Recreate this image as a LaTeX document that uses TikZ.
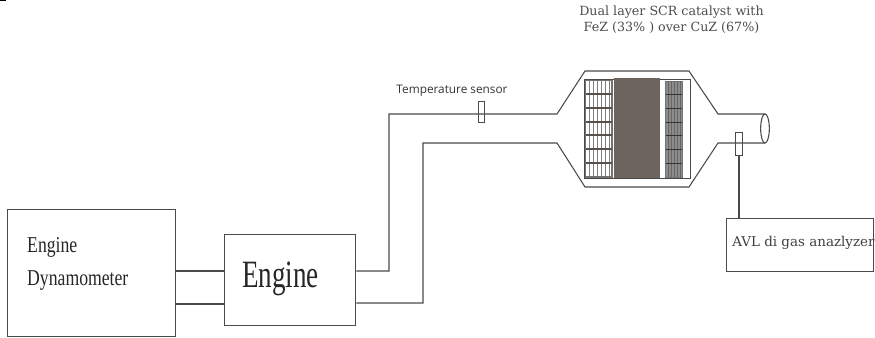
\documentclass[tikz,border=0pt]{standalone}
\usepackage{fontspec}
\usetikzlibrary{shapes.geometric}
\setmainfont{Liberation Serif}
\newfontfamily\wideserif{DejaVu Serif}
\newfontfamily\labelsans{Open Sans}
\definecolor{ln}{HTML}{4A4A4A}
\definecolor{brick}{HTML}{6E645E}
\tikzset{
  px/.style={x=0.75pt,y=-0.75pt},
  wire/.style={draw=ln,line width=0.8pt,line join=miter},
  boxnode/.style={draw=ln,line width=0.85pt,rectangle,inner sep=0pt,anchor=north west},
  sensor/.style={draw=ln,line width=0.8pt,rectangle,inner sep=0pt,anchor=north west},
  txt/.style={inner sep=0pt,text=black!85,anchor=west},
  capt/.style={inner sep=0pt,text=black!70,font=\wideserif\fontsize{9.5pt}{12pt}\selectfont,align=center}
}
\begin{document}
\begin{tikzpicture}[px]
\useasboundingbox (0,0) rectangle (875,338);
\fill[black] (0,0) rectangle (6,1.5);
% boxes
\node[boxnode,minimum width=126pt,minimum height=95.5pt] (dyno) at (7,209) {};
\node[boxnode,minimum width=98.5pt,minimum height=68pt] (engine) at (224,234) {};
\node[boxnode,minimum width=110.5pt,minimum height=40pt] (avl) at (726,218) {};
% box texts
\node[txt,xscale=.78,font=\fontsize{17pt}{24.7pt}\selectfont,align=left] (dynot) at (27,264) {Engine\\Dynamometer};
\node[txt,xscale=.70,font=\fontsize{29pt}{30pt}\selectfont] (engt) at (242,279) {Engine};
\node[txt,font=\wideserif\fontsize{10.1pt}{12pt}\selectfont,text=black!75] (avlt) at (732,243) {AVL di gas anazlyzer};
% shaft
\coordinate (dA) at (dyno.east |- 0,271);
\coordinate (dB) at (dyno.east |- 0,304);
\coordinate (eA) at (engine.west |- 0,271);
\coordinate (eB) at (engine.west |- 0,304);
\draw[wire] (dA) -- (eA);
\draw[wire] (dB) -- (eB);
% exhaust
\coordinate (xA) at (engine.east |- 0,271);
\coordinate (xB) at (engine.east |- 0,303);
\coordinate (tipA) at (765,114);
\coordinate (tipB) at (765,143);
\draw[wire] (xA) -- (389,271) -- (389,114) -- (557,114) -- (585,71) -- (689,71) -- (718,114) -- (tipA);
\draw[wire] (xB) -- (423,303) -- (423,143) -- (557,143) -- (585,187) -- (689,187) -- (718,143) -- (tipB);
\node[draw=ln,line width=0.8pt,ellipse,inner sep=0pt,minimum width=6.5pt,minimum height=21.8pt] (outlet) at (765,128.5) {};
% catalyst can
\node[boxnode,line width=0.9pt,minimum width=79.5pt,minimum height=74pt] (can) at (584,79) {};
\node[rectangle,fill=brick,draw=none,inner sep=0pt,anchor=north west,minimum width=34.5pt,minimum height=75pt] (mid) at (613.5,78) {};
% left brick
\draw[draw=black!55,line width=0.9pt] (585.5,80.5) rectangle (612,177);
\foreach \x in {589,593,597,601,605,609}{\draw[draw=black!50,line width=0.6pt] (\x,81) -- (\x,176);}
\foreach \y in {94,108,122,135,149,163}{\draw[draw=brick!80!black,line width=0.8pt] (586,\y) -- (612,\y);}
% right brick
\fill[black!45] (665.5,81) rectangle (682,177);
\draw[draw=black!55,line width=0.7pt] (665.5,81) rectangle (682,177);
\foreach \x in {668,671,674,677,680}{\draw[draw=black!60,line width=0.5pt] (\x,81) -- (\x,177);}
\foreach \y in {94,108,122,135,149,163}{\draw[draw=black!80,line width=0.7pt] (665.5,\y) -- (682,\y);}
% sensors
\node[sensor,minimum width=4.6pt,minimum height=15.8pt] (ts) at (478,101) {};
\node[sensor,minimum width=5.2pt,minimum height=17.3pt] (ps) at (735,132) {};
\coordinate (avlIn) at (ps.south |- avl.north);
\draw[wire] (ps.south) -- (avlIn);
% labels
\node[inner sep=0pt,text=black!80,font=\labelsans\fontsize{8.85pt}{10pt}\selectfont] (tsl) at (452,91) {Temperature sensor};
\node[capt] (cap) at (671.5,19.5) {Dual layer SCR catalyst with\\FeZ (33\% ) over CuZ (67\%)};
\end{tikzpicture}
\end{document}
